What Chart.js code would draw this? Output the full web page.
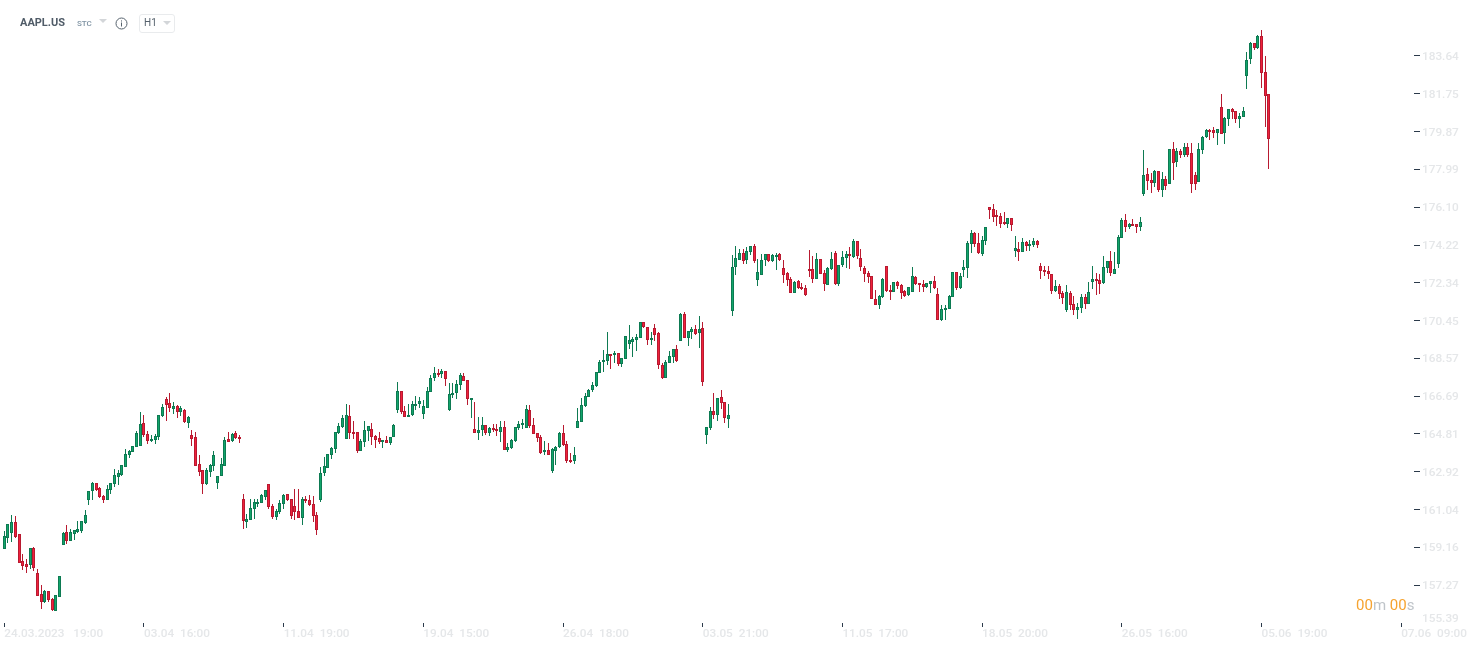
<!DOCTYPE html>
<html><head><meta charset="utf-8">
<style>
html,body{margin:0;padding:0;background:#fff;width:1482px;height:650px;overflow:hidden;font-family:Roboto,sans-serif}
#wrap{position:relative;width:1482px;height:650px}
canvas{position:absolute;left:0;top:0}
.a{position:absolute;white-space:nowrap}
.tri{position:absolute;width:0;height:0;border-left:4px solid transparent;border-right:4px solid transparent;border-top:4px solid #d3d6d9}
</style>
<script src="https://cdn.jsdelivr.net/npm/chart.js@4/dist/chart.umd.min.js"></script>
</head><body><div id="wrap">
<canvas id="c" width="1482" height="650"></canvas>
<div class="a" style="left:20px;top:16px;font-size:11px;font-weight:700;color:#505c68;line-height:14px">AAPL.US</div>
<div class="a" style="left:77px;top:18px;font-size:8px;font-weight:500;color:#7f93a3;line-height:12px">STC</div>
<div class="tri" style="left:99px;top:19px"></div>
<svg class="a" style="left:115px;top:17px" width="13" height="13" viewBox="0 0 13 13"><circle cx="6.5" cy="6.5" r="5.5" fill="none" stroke="#55616c" stroke-width="1"/><rect x="6" y="5.5" width="1" height="4" fill="#55616c"/><rect x="6" y="3.4" width="1" height="1.1" fill="#55616c"/></svg>
<div class="a" style="left:139px;top:14px;width:34px;height:17px;border:1px solid #e9ebed;border-radius:3px"></div>
<div class="a" style="left:144px;top:16px;font-size:10px;color:#55616c;line-height:14px">H1</div>
<div class="tri" style="left:163px;top:21px"></div>
<div class="a" style="left:1356px;top:596px;font-size:15px;line-height:18px;color:#bfc4c9"><span style="color:#f6a32f">00</span>m <span style="color:#f6a32f">00</span>s</div>
</div>
<script>
const xTickIndex=[0,38,76,114,152,190,228,266,304,342,380];
const xTickLabels=["24.03.2023   19:00","03.04  16:00","11.04  19:00","19.04  15:00","26.04  18:00","03.05  21:00","11.05  17:00","18.05  20:00","26.05  16:00","05.06  19:00","07.06  09:00"];
const yTicks=[155.39,157.27,159.16,161.04,162.92,164.81,166.69,168.57,170.45,172.34,174.22,176.10,177.99,179.87,181.75,183.64];
const opens=[159.09,159.64,159.89,160.40,159.80,158.48,158.31,158.29,159.11,157.86,
156.82,156.42,156.97,156.61,156.00,156.70,159.29,159.90,159.49,159.84,
159.94,159.97,160.38,161.53,161.97,162.36,162.14,161.74,161.53,162.03,
162.32,162.67,162.77,163.17,163.78,163.92,164.16,164.21,165.37,164.83,
164.46,164.51,164.64,165.71,166.57,166.37,166.04,166.22,165.89,166.02,
165.34,164.78,164.68,163.29,162.99,162.31,162.92,163.19,162.37,162.69,
163.22,164.58,164.48,164.88,164.68,161.59,160.43,160.53,161.08,161.32,
161.37,161.67,162.33,161.24,160.68,160.92,161.32,161.84,161.59,161.24,
160.99,160.63,161.59,161.54,161.34,160.79,161.52,162.86,163.13,163.76,
164.06,164.87,165.15,164.57,165.72,164.92,164.92,163.96,164.41,164.97,
165.07,164.72,164.62,164.41,164.52,164.36,164.66,166.02,166.96,165.97,
165.65,165.75,166.21,166.30,165.80,166.12,166.89,167.59,167.86,167.79,
167.96,166.00,166.75,166.86,167.26,167.71,167.51,166.51,165.07,164.86,
165.00,165.27,164.87,165.13,165.08,164.91,165.18,164.01,164.11,164.46,
165.11,165.27,165.11,166.02,165.27,164.88,164.68,163.91,164.03,162.97,
163.96,164.18,164.88,164.33,163.53,163.47,165.11,165.42,166.22,166.67,
167.00,167.20,167.86,168.39,168.46,168.81,168.76,168.86,168.31,168.56,
169.30,169.40,169.50,169.60,170.40,170.15,169.49,170.10,169.85,168.26,
167.60,168.34,168.64,169.06,169.45,170.80,169.60,169.90,170.05,169.85,
170.10,164.78,165.13,165.97,165.77,166.67,166.42,165.57,170.93,173.14,
173.48,173.83,173.48,173.86,174.18,172.49,172.74,173.48,173.78,173.43,
173.63,173.78,173.09,172.84,172.54,171.84,172.44,172.14,172.09,173.04,
173.04,172.54,173.53,172.84,172.24,173.04,173.83,172.29,173.23,173.58,
173.78,173.63,174.43,173.58,173.09,172.84,172.69,171.54,171.23,171.64,
173.18,171.99,171.89,172.39,172.24,171.94,171.71,171.89,172.64,172.34,
172.29,172.12,172.29,172.44,171.79,170.48,170.98,171.05,171.64,172.89,
172.07,172.99,173.09,174.28,174.82,174.33,173.76,174.41,176.12,176.02,
175.72,175.67,175.37,175.29,175.57,173.91,174.03,173.86,174.38,174.16,
174.21,174.43,173.18,172.98,172.93,172.78,171.92,172.19,171.84,170.98,
171.84,171.29,170.98,171.08,171.64,171.26,172.37,172.54,172.49,172.32,
173.07,173.43,172.77,173.27,174.56,175.47,175.11,175.27,175.27,175.11,
176.75,177.76,177.46,177.30,177.91,176.95,177.51,177.25,179.01,178.34,
178.91,178.69,179.11,178.81,177.71,177.35,178.96,179.59,179.95,179.95,
179.78,181.10,179.78,180.50,181.00,180.90,180.50,180.58,182.62,183.48,
184.28,184.06,184.63,182.84,181.74];
const highs=[159.95,160.30,160.76,160.71,159.80,158.81,158.56,159.11,159.16,158.06,
157.28,157.03,156.97,156.63,156.77,157.71,159.90,160.27,160.07,160.00,
160.45,160.45,161.01,161.99,162.44,162.39,162.19,161.76,162.29,162.39,
163.05,162.99,163.24,164.05,164.03,164.23,164.98,165.89,165.74,164.94,
164.78,164.83,165.77,166.29,166.67,166.83,166.42,166.27,166.22,166.07,
165.69,165.03,164.89,163.75,162.99,163.09,163.29,163.95,162.69,163.60,
164.68,164.93,164.88,164.94,164.78,161.84,160.81,161.59,161.59,161.59,
161.84,162.04,162.33,161.34,161.06,161.51,161.80,161.84,161.59,162.05,
162.05,161.65,161.70,161.79,161.70,160.94,163.18,163.64,163.83,164.18,
164.92,165.37,165.77,166.31,166.26,165.47,164.92,164.57,165.44,165.22,
165.34,164.77,164.92,164.52,164.72,164.67,165.32,167.41,166.96,166.21,
166.31,166.46,166.71,166.66,166.51,167.16,167.76,168.16,168.06,168.06,
167.96,167.33,167.36,167.51,167.86,167.86,167.51,166.61,166.41,165.67,
165.67,165.27,165.17,165.32,165.32,165.47,165.44,164.36,164.58,165.18,
165.47,165.57,166.27,166.27,165.62,164.88,164.78,164.48,164.38,164.13,
164.23,164.93,165.27,164.48,163.85,164.18,166.12,166.62,166.87,167.07,
167.41,167.91,168.51,169.01,169.87,168.81,168.96,168.86,168.61,169.70,
170.25,169.65,169.80,170.40,170.40,170.15,169.88,170.30,169.90,168.36,
168.51,168.96,169.06,169.25,170.85,170.90,169.95,170.15,170.25,170.70,
170.40,165.18,166.17,166.87,166.62,167.02,166.42,166.32,173.73,174.18,
174.03,174.03,174.13,174.18,174.28,173.53,173.78,173.78,173.78,173.78,
173.80,173.83,173.48,172.89,172.64,172.44,172.49,172.34,172.24,173.98,
173.68,173.83,173.53,172.99,173.14,173.88,173.93,173.23,173.93,173.93,
174.13,174.54,174.43,174.03,173.18,172.94,172.69,171.99,171.74,172.59,
173.18,172.24,172.39,172.44,172.29,171.99,172.14,173.14,172.69,172.34,
172.49,172.34,172.44,172.69,172.09,171.24,171.24,171.74,172.89,172.89,
172.84,173.48,174.43,174.99,174.89,174.82,174.69,175.12,176.12,176.28,
175.99,175.82,175.87,175.57,175.57,174.69,174.39,174.59,174.43,174.48,
174.58,174.49,173.33,173.20,173.20,172.78,172.50,172.30,171.91,172.25,
171.91,171.66,171.31,171.76,171.76,172.40,173.20,172.83,172.80,173.70,
173.45,173.90,173.85,174.74,175.59,175.79,175.34,175.54,175.27,175.62,
178.97,178.06,177.79,177.96,177.91,177.86,177.66,179.01,179.37,179.06,
179.01,179.30,179.30,179.30,177.86,179.30,179.65,180.00,180.00,180.10,
180.00,181.76,180.60,181.01,181.05,180.90,180.80,181.10,183.85,184.33,
184.31,184.69,184.94,183.65,181.74];
const lows=[159.09,159.37,159.44,159.64,158.39,158.04,157.88,158.08,157.98,156.75,
156.09,156.40,156.45,156.00,156.00,156.70,159.29,159.32,159.49,159.52,
159.89,159.89,160.33,161.26,161.53,161.97,161.63,161.36,161.53,161.84,
162.17,162.26,162.72,163.17,163.60,163.92,164.16,164.21,164.64,164.31,
164.40,164.31,164.51,165.66,165.46,165.91,165.79,165.59,165.71,165.34,
165.11,164.21,163.22,162.70,161.81,162.26,162.67,162.94,162.06,162.69,
163.22,164.41,164.43,164.55,164.36,160.06,160.13,160.53,160.56,161.17,
161.37,161.52,161.08,160.56,160.51,160.83,161.08,161.49,160.56,160.51,
160.63,160.26,161.37,161.22,160.41,159.76,161.42,162.70,163.13,163.54,
163.88,164.79,165.09,164.57,164.57,164.57,163.86,163.96,164.14,164.46,
164.24,164.09,164.29,164.09,164.36,164.24,164.66,165.83,165.80,165.65,
165.65,165.70,166.02,166.08,165.53,166.10,166.89,167.43,167.66,167.59,
167.19,165.95,166.60,166.53,166.99,167.44,166.25,165.60,164.86,164.51,
164.71,164.76,164.69,164.93,164.71,164.41,164.01,163.91,164.06,164.41,
165.01,165.08,165.11,165.11,164.83,164.41,163.82,163.77,163.77,162.87,
163.27,164.13,164.21,163.37,163.37,163.32,165.11,165.42,166.15,166.67,
166.90,167.15,167.86,167.90,168.26,168.04,168.34,168.19,168.14,168.56,
169.02,168.62,168.94,169.60,170.08,169.24,169.24,169.45,168.04,167.53,
167.60,168.34,168.34,168.39,169.45,169.60,169.19,169.52,169.75,169.09,
167.20,164.31,165.02,165.54,165.47,166.07,165.36,165.13,170.71,172.75,
173.48,173.27,173.27,173.72,173.32,172.17,172.74,173.17,173.40,173.37,
172.97,173.43,172.32,172.17,171.84,171.84,172.04,171.97,171.67,172.62,
172.32,172.54,172.79,171.92,172.24,172.99,172.24,172.17,173.14,173.07,
173.04,173.58,173.53,172.94,172.39,172.34,171.54,171.23,171.03,171.59,
171.89,171.48,171.89,172.04,171.53,171.64,171.67,171.89,172.22,171.89,
171.89,172.07,171.82,172.02,170.48,170.43,170.48,171.01,171.64,171.99,
172.04,172.64,172.59,173.83,174.13,173.78,173.70,174.24,175.54,175.39,
175.19,175.09,175.24,175.09,174.94,173.65,173.45,173.86,173.90,173.90,
174.13,174.05,172.55,172.70,172.55,171.76,171.86,171.51,171.26,170.91,
170.96,170.76,170.56,170.86,171.01,171.26,172.05,171.71,171.76,172.30,
172.85,172.70,172.77,173.10,174.56,174.89,175.04,175.16,174.84,174.94,
176.65,176.98,176.80,177.10,176.85,176.60,176.95,177.25,177.45,178.09,
178.54,178.59,178.59,176.80,176.95,177.35,178.77,179.55,179.47,179.55,
179.22,179.74,179.27,180.17,180.50,180.32,180.07,180.58,182.01,183.25,
183.96,184.01,182.06,180.12,178.03];
const closes=[159.70,160.30,160.40,159.69,158.39,158.23,158.19,159.11,158.15,156.75,
156.42,156.97,156.52,156.05,156.77,157.71,159.85,159.49,159.90,160.00,
160.05,160.45,160.76,161.99,162.39,162.03,161.68,161.53,162.09,162.39,
162.74,162.84,163.24,163.83,163.98,164.23,164.88,165.32,164.76,164.46,
164.58,164.73,165.77,166.17,166.25,166.09,166.22,165.91,166.09,165.39,
165.67,164.56,163.22,162.92,162.32,162.99,163.24,163.78,162.69,163.29,
164.53,164.41,164.83,164.60,164.58,160.48,160.59,161.14,161.44,161.44,
161.75,162.04,161.17,160.68,160.99,161.39,161.79,161.54,160.73,160.92,
160.63,161.59,161.46,161.27,160.73,160.03,162.88,163.23,163.83,164.13,
164.92,165.22,165.62,165.77,164.86,164.81,163.96,164.47,165.02,165.22,
164.66,164.52,164.39,164.52,164.36,164.67,165.27,166.96,165.90,165.65,
165.77,166.31,166.31,166.46,166.21,166.96,167.61,167.86,167.74,167.96,
167.54,166.81,166.86,167.31,167.76,167.44,166.55,166.61,164.86,165.00,
165.27,164.86,165.12,165.01,164.96,165.18,164.01,164.18,164.53,165.18,
165.32,165.37,166.07,165.22,164.83,164.61,163.86,164.03,163.77,164.08,
164.18,164.88,164.26,163.47,163.42,163.78,165.47,166.27,166.72,167.02,
167.26,167.91,168.41,168.51,168.81,168.69,168.86,168.31,168.61,169.70,
169.50,169.55,169.65,170.40,170.15,169.49,169.60,169.75,168.24,167.60,
168.41,168.71,169.06,168.44,170.80,169.60,169.95,170.05,169.80,170.05,
167.40,165.18,165.97,165.77,166.62,166.37,165.62,165.77,173.14,173.58,
173.83,173.43,173.93,174.18,173.43,172.89,173.48,173.78,173.43,173.73,
173.73,173.48,172.74,172.49,171.84,172.39,172.09,172.02,171.74,172.94,
172.54,173.53,172.79,172.29,173.09,173.53,172.29,173.23,173.63,173.78,
173.68,174.43,173.68,173.14,172.79,172.64,171.54,171.23,171.69,172.54,
171.94,171.87,172.39,172.17,171.84,171.69,172.14,172.69,172.29,172.22,
172.12,172.34,172.44,172.07,170.48,171.05,171.08,171.69,172.89,172.09,
172.69,173.14,174.33,174.82,174.28,173.83,174.48,175.12,175.95,175.64,
175.60,175.29,175.26,175.57,175.21,174.08,173.86,174.38,174.16,174.28,
174.43,174.21,172.92,172.87,172.77,171.92,172.19,171.76,171.57,171.89,
171.23,170.98,171.14,171.64,171.26,171.89,172.54,172.42,172.27,173.13,
173.43,172.82,173.03,174.63,175.47,175.11,175.27,175.16,175.11,175.37,
177.71,177.40,177.31,177.91,176.95,177.51,177.15,179.01,178.31,178.91,
178.71,179.11,178.71,177.25,177.25,179.01,179.60,179.95,179.83,179.78,
180.00,179.74,180.55,181.00,180.85,180.50,180.65,180.90,183.43,184.28,
184.06,184.63,182.77,181.63,179.49];

const isUp=i=>closes[i]>=opens[i];
const snap={id:'snap',afterDatasetsUpdate(chart){
  chart.getSortedVisibleDatasetMetas().forEach(m=>m.data.forEach(el=>{
    el.x=Math.floor(el.x)+0.5; el.y=Math.round(el.y); el.base=Math.round(el.base);
  }));
}};
new Chart(document.getElementById('c'),{
  type:'bar',
  data:{datasets:[
    {label:'body',order:0,grouped:false,barThickness:3,borderWidth:1,borderSkipped:false,inflateAmount:0,
     data:opens.map((o,i)=>({x:i,y:[o,closes[i]]})),
     backgroundColor:opens.map((o,i)=>isUp(i)?'#12a56b':'#f0213c'),
     borderColor:opens.map((o,i)=>isUp(i)?'#0d7a52':'#b81a30')},
    {label:'wick',order:1,grouped:false,barThickness:1,borderWidth:0,inflateAmount:0,
     data:lows.map((l,i)=>({x:i,y:[l,highs[i]]})),
     backgroundColor:opens.map((o,i)=>isUp(i)?'#0e7a52':'#b81a30')}
  ]},
  plugins:[snap],
  options:{
    responsive:false,animation:false,devicePixelRatio:1,
    events:[],
    layout:{padding:0},
    plugins:{legend:{display:false},tooltip:{enabled:false},title:{display:false}},
    scales:{
      x:{type:'linear',offset:false,min:-1.17,max:383.5,
        grid:{offset:false,drawOnChartArea:false,drawTicks:true,tickLength:4,tickColor:'#2b3a4a',tickWidth:1},
        border:{display:false},
        afterBuildTicks:s=>{s.ticks=xTickIndex.map(v=>({value:v}));},
        afterFit:s=>{s.height=27;s.paddingLeft=0;s.paddingRight=0;},
        ticks:{autoSkip:false,maxRotation:0,minRotation:0,align:'start',padding:0,color:'#e5e7e9',
          font:{family:'Roboto',size:11.8,weight:'500'},
          callback:v=>xTickLabels[xTickIndex.indexOf(v)]}},
      y:{type:'linear',position:'right',min:155.39,max:186.43,
        grid:{drawOnChartArea:false,drawTicks:true,tickLength:6,tickWidth:1,
          tickColor:c=>c.index===0?'rgba(0,0,0,0)':'#2b3a4a'},
        border:{display:false},
        afterBuildTicks:s=>{s.ticks=yTicks.map(v=>({value:v}));},
        afterFit:s=>{s.width=68;s.paddingTop=0;s.paddingBottom=0;},
        ticks:{autoSkip:false,padding:2,color:'#e5e7e9',
          font:c=>({family:'Roboto',size:11.8,weight:'500',lineHeight:c.index===0?'8px':'2px'}),
          callback:(v,i)=>i===0?[v.toFixed(2),'']:['',v.toFixed(2)]}}
    }
  }
});
</script></body></html>
